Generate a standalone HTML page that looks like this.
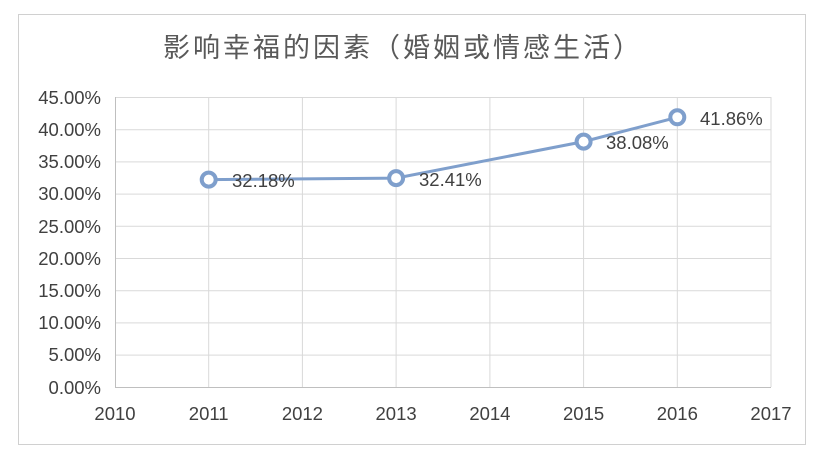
<!DOCTYPE html>
<html><head><meta charset="utf-8"><style>
body{margin:0;background:#fff;}
svg text{font-family:"Liberation Sans","Noto Sans CJK SC",sans-serif;fill:#404040;}
</style></head><body>
<svg width="828" height="461" xmlns="http://www.w3.org/2000/svg">
<rect x="0" y="0" width="828" height="461" fill="#fff"/>
<rect x="18.5" y="14.5" width="787" height="430" fill="#fff" stroke="#d0d0d0"/>
<text x="403" y="57" font-size="27" text-anchor="middle" letter-spacing="3" style="fill:#595959">影响幸福的因素（婚姻或情感生活）</text>
<g stroke="#d9d9d9" stroke-width="1">
<line x1="115" y1="97.5" x2="771" y2="97.5"/>
<line x1="115" y1="129.7" x2="771" y2="129.7"/>
<line x1="115" y1="161.9" x2="771" y2="161.9"/>
<line x1="115" y1="194.1" x2="771" y2="194.1"/>
<line x1="115" y1="226.3" x2="771" y2="226.3"/>
<line x1="115" y1="258.5" x2="771" y2="258.5"/>
<line x1="115" y1="290.7" x2="771" y2="290.7"/>
<line x1="115" y1="322.9" x2="771" y2="322.9"/>
<line x1="115" y1="355.1" x2="771" y2="355.1"/>
<line x1="208.7" y1="97" x2="208.7" y2="387"/>
<line x1="302.4" y1="97" x2="302.4" y2="387"/>
<line x1="396.1" y1="97" x2="396.1" y2="387"/>
<line x1="489.9" y1="97" x2="489.9" y2="387"/>
<line x1="583.6" y1="97" x2="583.6" y2="387"/>
<line x1="677.3" y1="97" x2="677.3" y2="387"/>
<line x1="771" y1="97" x2="771" y2="387"/>
</g>
<g stroke="#bfbfbf" stroke-width="1">
<line x1="115.5" y1="97" x2="115.5" y2="387"/>
<line x1="115" y1="387.5" x2="771" y2="387.5"/>
</g>
<g font-size="18.5" text-anchor="end">
<text x="101" y="104">45.00%</text>
<text x="101" y="136">40.00%</text>
<text x="101" y="168">35.00%</text>
<text x="101" y="200">30.00%</text>
<text x="101" y="233">25.00%</text>
<text x="101" y="265">20.00%</text>
<text x="101" y="297">15.00%</text>
<text x="101" y="329">10.00%</text>
<text x="101" y="361">5.00%</text>
<text x="101" y="394">0.00%</text>
</g>
<g font-size="18.5" text-anchor="middle">
<text x="115" y="420">2010</text>
<text x="208.7" y="420">2011</text>
<text x="302.4" y="420">2012</text>
<text x="396.1" y="420">2013</text>
<text x="489.9" y="420">2014</text>
<text x="583.6" y="420">2015</text>
<text x="677.3" y="420">2016</text>
<text x="771" y="420">2017</text>
</g>
<polyline points="208.7,179.6 396.1,178.1 583.6,141.6 677.3,117.3" fill="none" stroke="#7f9fcc" stroke-width="3"/>
<g fill="#fff" stroke="#7f9fcc" stroke-width="4">
<circle cx="208.7" cy="179.6" r="7"/>
<circle cx="396.1" cy="178.1" r="7"/>
<circle cx="583.6" cy="141.6" r="7"/>
<circle cx="677.3" cy="117.3" r="7"/>
</g>
<g font-size="18.5">
<text x="232" y="187">32.18%</text>
<text x="419" y="186">32.41%</text>
<text x="606" y="149">38.08%</text>
<text x="700" y="125">41.86%</text>
</g>
</svg>
</body></html>
